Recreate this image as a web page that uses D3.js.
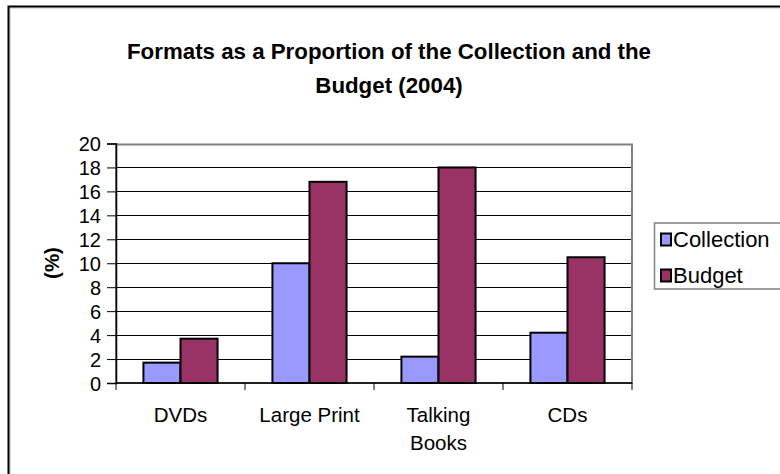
<!DOCTYPE html>
<html>
<head>
<meta charset="utf-8">
<script src="https://cdn.jsdelivr.net/npm/d3@7/dist/d3.min.js"></script>
<style>
  html, body { margin: 0; padding: 0; background: #fff; }
  svg { display: block; font-family: Arial, "Liberation Sans", sans-serif; }
</style>
</head>
<body>
<svg id="chart" width="780" height="474"></svg>
<script>
// Formats as a share of the collection and of the budget, 2004
const categories = ["DVDs", "Large Print", "Talking Books", "CDs"];
const categoryLines = [["DVDs"], ["Large Print"], ["Talking", "Books"], ["CDs"]];
const seriesNames = ["Collection", "Budget"];
const collection = [1.7, 10.0, 2.2, 4.2];
const budget = [3.7, 16.8, 18.0, 10.5];
const yTicks = [0, 2, 4, 6, 8, 10, 12, 14, 16, 18, 20];
const colors = ["#9999ff", "#993366"];

const FONT = 'Arial, "Liberation Sans", sans-serif';
const svg = d3.select("#chart");
const plot = { left: 116, top: 143.5, right: 632, bottom: 383 };

// Outer chart frame (shadowed; runs past the right and bottom edges)
svg.append("rect").attr("x", 10).attr("y", 8).attr("width", 800).attr("height", 500)
  .attr("fill", "none").attr("stroke", "#c0c0c0").attr("stroke-width", 1);
svg.append("rect").attr("x", 8.5).attr("y", 6.5).attr("width", 800).attr("height", 500)
  .attr("fill", "none").attr("stroke", "#000").attr("stroke-width", 2);

// Title
const title = svg.append("text").attr("text-anchor", "middle")
  .attr("font-weight", "bold").attr("font-size", 22.3).attr("fill", "#000");
title.append("tspan").attr("x", 389).attr("y", 59).text("Formats as a Proportion of the Collection and the");
title.append("tspan").attr("x", 389).attr("y", 93).text("Budget (2004)");

const x0 = d3.scaleBand().domain(categories).range([plot.left, plot.right]).paddingInner(0).paddingOuter(0);
const x1 = d3.scaleBand().domain(seriesNames).range([0, x0.bandwidth()]).paddingInner(0).paddingOuter(0.74);
const y = d3.scaleLinear().domain([0, 20]).range([plot.bottom, plot.top]);

// Gridlines
svg.append("g").selectAll("line").data(yTicks.filter(t => t > 0 && t < 20)).join("line")
  .attr("x1", plot.left).attr("x2", plot.right)
  .attr("y1", d => Math.round(y(d)) + 0.5).attr("y2", d => Math.round(y(d)) + 0.5)
  .attr("stroke", "#000").attr("stroke-width", 1);

// Plot area border
svg.append("rect").attr("x", plot.left).attr("y", Math.round(plot.top) + 0.5)
  .attr("width", plot.right - plot.left).attr("height", plot.bottom - Math.round(plot.top) - 0.5)
  .attr("fill", "none").attr("stroke", "#808080").attr("stroke-width", 2);

// Bars
const rows = categories.map((c, i) => ({ cat: c, vals: [collection[i], budget[i]] }));
const groups = svg.append("g").selectAll("g").data(rows).join("g")
  .attr("transform", d => `translate(${x0(d.cat)},0)`);
groups.selectAll("rect").data(d => d.vals.map((v, j) => ({ v, j }))).join("rect")
  .attr("x", d => x1(seriesNames[d.j]))
  .attr("y", d => y(d.v))
  .attr("width", x1.bandwidth())
  .attr("height", d => y(0) - y(d.v))
  .attr("fill", d => colors[d.j])
  .attr("stroke", "#000").attr("stroke-width", 2);

// Y axis
const yAxis = d3.axisLeft(y).tickValues(yTicks).tickSize(9).tickPadding(6).tickFormat(d3.format("d"));
const gy = svg.append("g").attr("transform", `translate(${plot.left},0)`).call(yAxis);
gy.attr("font-size", null).attr("font-family", null);
gy.select(".domain").attr("stroke", "#000").attr("stroke-width", 1.5);
gy.selectAll(".tick line").attr("stroke", "#000");
gy.selectAll(".tick text").attr("font-size", 20).attr("fill", "#000").attr("font-family", FONT)
  .attr("dy", "0.36em");

// X axis (ticks between categories)
const xEdge = d3.scaleLinear().domain([0, categories.length]).range([plot.left, plot.right]);
const gx = svg.append("g");
gx.append("line").attr("x1", plot.left).attr("x2", plot.right)
  .attr("y1", plot.bottom).attr("y2", plot.bottom).attr("stroke", "#000").attr("stroke-width", 1.5);
gx.selectAll("line.tk").data(d3.range(categories.length + 1)).join("line").attr("class", "tk")
  .attr("x1", d => xEdge(d)).attr("x2", d => xEdge(d))
  .attr("y1", plot.bottom).attr("y2", plot.bottom + 7).attr("stroke", "#000");
const labels = gx.selectAll("text").data(categories).join("text")
  .attr("text-anchor", "middle").attr("font-size", 20.5).attr("fill", "#000");
labels.each(function (d, i) {
  const t = d3.select(this);
  categoryLines[i].forEach((line, k) => {
    t.append("tspan").attr("x", x0(d) + x0.bandwidth() / 2).attr("y", 421.5 + k * 28.5).text(line);
  });
});

// Y axis title
svg.append("text").attr("transform", "translate(59,263) rotate(-90)")
  .attr("text-anchor", "middle").attr("font-weight", "bold").attr("font-size", 20.5)
  .text("(%)");

// Legend
const lg = svg.append("g");
lg.append("rect").attr("x", 654.5).attr("y", 223).attr("width", 140).attr("height", 66)
  .attr("fill", "#fff").attr("stroke", "#808080").attr("stroke-width", 1.5);
seriesNames.forEach((name, i) => {
  const base = 247 + i * 36;
  lg.append("rect").attr("x", 661).attr("y", base - 13.5).attr("width", 10).attr("height", 12)
    .attr("fill", colors[i]).attr("stroke", "#000").attr("stroke-width", 2);
  lg.append("text").attr("x", 673).attr("y", base).attr("font-size", 22).attr("fill", "#000").text(name);
});
</script>
</body>
</html>
